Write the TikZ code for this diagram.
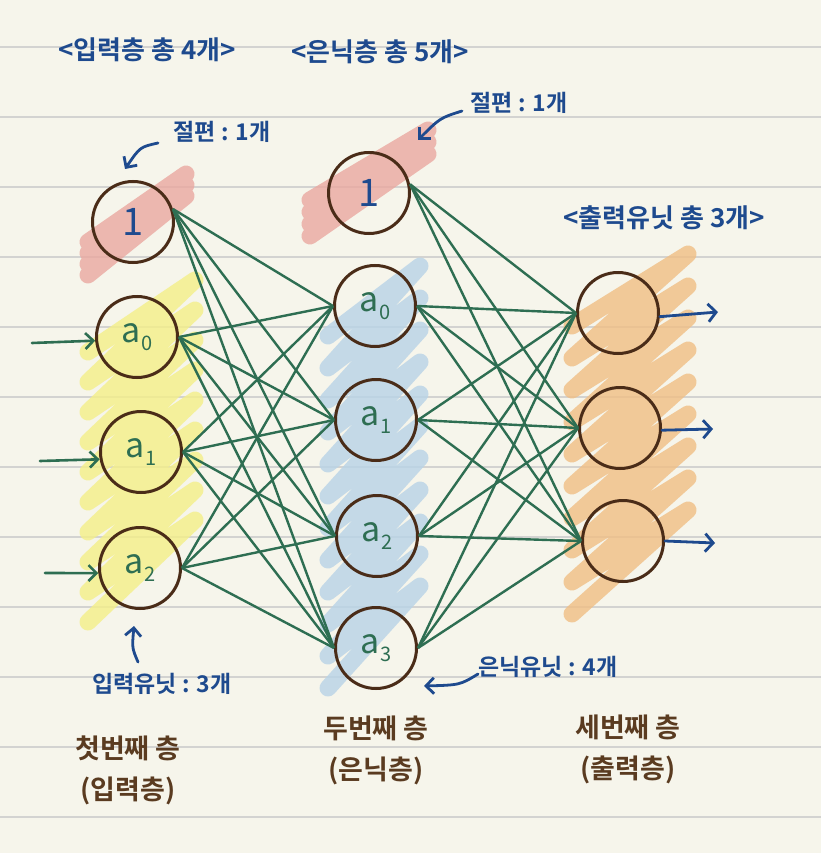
\documentclass[tikz,border=0pt]{standalone}
\usepackage{fontspec}
\setmainfont{Noto Sans CJK KR}[BoldFont={Noto Sans CJK KR Bold}]
\usetikzlibrary{arrows.meta}
\definecolor{paper}{HTML}{F6F5EB}
\definecolor{rulegray}{HTML}{D3D3D1}
\definecolor{inkblue}{HTML}{1E4A8E}
\definecolor{conngreen}{HTML}{2E6E52}
\definecolor{nodebrown}{HTML}{4A2C18}
\definecolor{textbrown}{HTML}{5A3B20}
\definecolor{hlred}{HTML}{EAA8A0}
\definecolor{hlyellow}{HTML}{F4EF88}
\definecolor{hlblue}{HTML}{B8D3E7}
\definecolor{hlorange}{HTML}{F0BE84}
\newcommand{\aunit}[1]{a\raisebox{-0.22em}{\fontsize{20}{20}\selectfont #1}}
\newcommand{\myscrib}[7]{%
  \draw[scrib,#1] (#2,{#4+#5}) \foreach \i in {0,...,#7}{ -- (#3,{#4+\i*#6}) -- (#2,{#4+(\i+1)*#6+#5}) };
}
\tikzset{
  scrib/.style={line width=17pt, line cap=round, line join=round, opacity=0.8},
  neuron/.style={circle, draw=nodebrown, line width=3pt, minimum size=81pt, inner sep=0pt},
  biasnode/.style={neuron, text=inkblue, font=\fontsize{38}{38}\selectfont},
  unitnode/.style={neuron, text=conngreen, font=\fontsize{34}{34}\selectfont},
  conn/.style={draw=conngreen, line width=2.4pt},
  inarrow/.style={draw=conngreen, line width=2.6pt, line cap=round, -{Straight Barb[length=8pt,width=16pt]}},
  outarrow/.style={draw=inkblue, line width=2.8pt, line cap=round, -{Straight Barb[length=8pt,width=18pt]}},
  notearrow/.style={draw=inkblue, line width=2.8pt, line cap=round, -{Straight Barb[length=8pt,width=16pt]}},
  bluenote/.style={text=inkblue, font=\bfseries\fontsize{23}{25}\selectfont, inner sep=0pt},
  bluehead/.style={text=inkblue, font=\bfseries\fontsize{26}{28}\selectfont, inner sep=0pt},
  layername/.style={text=textbrown, font=\bfseries\fontsize{27}{41}\selectfont, align=center, inner sep=0pt},
  ruling/.style={draw=rulegray, line width=2pt}
}
\begin{document}
\begin{tikzpicture}[x=1pt,y=-1pt]
\fill[paper] (0,0) rectangle (821,853);
\useasboundingbox (0,0) rectangle (821,853);
\foreach \k in {0,...,11} { \draw[ruling] (0,{47+70*\k}) -- (821,{47+70*\k}); }

% highlights
\myscrib{hlred}{88}{186}{174}{68}{11}{2}
\myscrib{hlyellow}{88}{195}{280}{72}{30}{8}
\myscrib{hlred}{310}{428}{130}{70}{12}{2}
\myscrib{hlblue}{328}{420}{266}{70}{32}{10}
\myscrib{hlorange}{572}{688}{254}{72}{32}{8}

% neurons
\node[biasnode] (b1) at (133,222) {1};
\node[unitnode] (x0) at (137,337) {\aunit{0}};
\node[unitnode] (x1) at (141,452) {\aunit{1}};
\node[unitnode] (x2) at (140,568) {\aunit{2}};

\node[biasnode] (b2) at (369,193) {1};
\node[unitnode] (h0) at (375,306) {\aunit{0}};
\node[unitnode] (h1) at (376,420) {\aunit{1}};
\node[unitnode] (h2) at (377,536) {\aunit{2}};
\node[unitnode] (h3) at (376,648) {\aunit{3}};

\node[neuron] (o1) at (618,313) {};
\node[neuron] (o2) at (620,428) {};
\node[neuron] (o3) at (623,541) {};

% connections
\foreach \t in {h0,h1,h2,h3} {
  \draw[conn] (b1.18) -- (\t.west);
  \foreach \s in {x0,x1,x2} { \draw[conn] (\s.east) -- (\t.west); }
}
\foreach \t in {o1,o2,o3} {
  \draw[conn] (b2.12) -- (\t.west);
  \foreach \s in {h0,h1,h2,h3} { \draw[conn] (\s.east) -- (\t.west); }
}

% input arrows
\coordinate (ia0) at (32,343);
\coordinate (ia1) at (40,461);
\coordinate (ia2) at (45,573);
\draw[inarrow] (ia0) -- (x0.185);
\draw[inarrow] (ia1) -- (x1.190);
\draw[inarrow] (ia2) -- (x2.187);

% output arrows
\coordinate (oa1) at (718,312);
\coordinate (oa2) at (713,429);
\coordinate (oa3) at (715,543);
\draw[outarrow] (o1.355) -- (oa1);
\draw[outarrow] (o2.357) -- (oa2);
\draw[outarrow] (o3.east) -- (oa3);

% notes
\node[bluehead] (t1) at (147,50) {<입력층 총 4개>};
\node[bluehead] (t2) at (380,52) {<은닉층 총 5개>};
\node[bluehead] (t3) at (664,218) {<출력유닛 총 3개>};
\node[bluenote] (n1) at (222,132) {절편 : 1개};
\node[bluenote] (n2) at (519,103) {절편 : 1개};
\node[bluenote] (n3) at (162,684) {입력유닛 : 3개};
\node[bluenote] (n4) at (548,667) {은닉유닛 : 4개};

\coordinate (c1s) at (158,143);
\coordinate (c1e) at (125,169);
\draw[notearrow] (c1s) .. controls (140,147) .. (c1e);
\coordinate (c2s) at (462,111);
\coordinate (c2e) at (418,140);
\draw[notearrow] (c2s) .. controls (440,118) .. (c2e);
\coordinate (c3s) at (138,662);
\coordinate (c3e) at (134,626);
\draw[notearrow] (c3s) .. controls (132,648) .. (c3e);
\coordinate (c4s) at (478,674);
\coordinate (c4e) at (424,686);
\draw[notearrow] (c4s) .. controls (460,685) .. (c4e);

% layer names
\node[layername] (l1) at (128,770) {첫번째 층\\(입력층)};
\node[layername] (l2) at (376,750) {두번째 층\\(은닉층)};
\node[layername] (l3) at (628,749) {세번째 층\\(출력층)};
\end{tikzpicture}
\end{document}
